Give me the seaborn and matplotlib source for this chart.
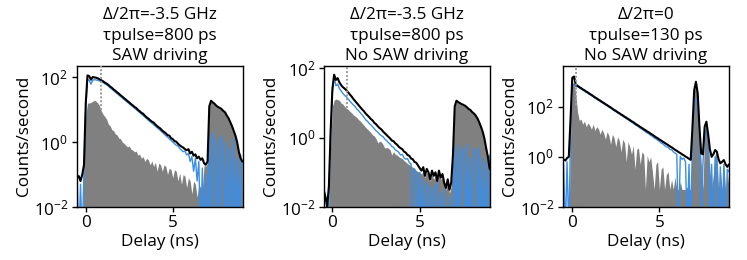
import numpy as np
import pandas as pd
import matplotlib
matplotlib.use("Agg")
import matplotlib.pyplot as plt
from matplotlib.ticker import NullLocator, FixedLocator
import seaborn as sns

# delay bins (ns), 0.1 ns wide, -0.5 ... 9.0  (96 bins)
delay_ns = np.round(np.arange(-0.5, 9.0001, 0.1), 1)

# ---------- values, stored as log10(counts/second) ----------
# Panel 1: Δ/2π=-3.5 GHz, τpulse=800 ps, SAW driving
p1_black_log10 = [
    -1.1, -1.05, -1.2, -1.0, -0.7, 1.2, 2.05, 2.03, 1.92, 2.0,
    1.99, 1.98, 1.96, 1.93, 1.9, 1.87, 1.83, 1.8, 1.76, 1.71,
    1.67, 1.62, 1.58, 1.53, 1.49, 1.44, 1.40, 1.35, 1.31, 1.26,
    1.22, 1.17, 1.13, 1.08, 1.05, 0.99, 0.95, 0.90, 0.87, 0.81,
    0.76, 0.72, 0.67, 0.63, 0.60, 0.54, 0.49, 0.45, 0.41, 0.35,
    0.31, 0.27, 0.21, 0.20, 0.12, 0.09, 0.03, 0.01, -0.05, -0.1,
    -0.14, -0.17, -0.22, -0.25, -0.22, -0.35, -0.3, -0.42, -0.38, -0.5,
    -0.45, -0.55, -0.5, -0.65, -0.7, -0.6, 1.1, 1.27, 1.22, 1.18,
    1.12, 1.08, 1.05, 1.02, 0.96, 0.92, 0.82, 0.74, 0.62, 0.5,
    0.35, 0.2, 0.0, -0.3, -0.5, -0.6]
p1_blue_log10 = [
    -1.1, -3, -1.3, -3, -0.8, 1.0, 1.93, 1.9, 1.78, 1.9,
    1.92, 1.91, 1.9, 1.88, 1.86, 1.83, 1.79, 1.76, 1.72, 1.67,
    1.63, 1.58, 1.54, 1.49, 1.45, 1.40, 1.36, 1.31, 1.27, 1.22,
    1.18, 1.13, 1.09, 1.04, 1.0, 0.95, 0.91, 0.86, 0.81, 0.77,
    0.72, 0.67, 0.63, 0.58, 0.54, 0.49, 0.44, 0.4, 0.35, 0.3,
    0.25, 0.2, 0.15, 0.1, 0.05, 0.0, -0.05, -0.1, -0.12, -0.2,
    -0.25, -0.3, -0.28, -0.4, -0.35, -0.6, -0.45, -0.9, -0.5, -1.2,
    -0.6, -3, -0.8, -3, -1.0, -3, 0.2, -3, 0.3, -0.2,
    -3, 0.1, -3, 0.2, -0.3, -3, 0.0, -3, -0.2, -3,
    0.1, -3, -0.5, -3, -0.4, -3]
p1_grey_log10 = [
    -3, -3, -3, -3, -0.3, 0.8, 1.2, 1.2, 1.22, 1.25,
    1.29, 1.25, 1.2, 1.1, 0.95, 0.85, 0.78, 0.7, 0.55, 0.5,
    0.38, 0.35, 0.25, 0.22, 0.12, 0.1, 0.0, -0.04, -0.1, -0.15,
    -0.12, -0.22, -0.25, -0.3, -0.28, -0.4, -0.38, -0.5, -0.45, -0.6,
    -0.5, -0.55, -0.7, -0.58, -0.75, -0.62, -0.9, -0.65, -0.7, -0.9,
    -0.7, -0.75, -1.0, -0.8, -0.85, -1.1, -0.85, -0.9, -1.2, -0.95,
    -1.3, -1.0, -1.05, -1.4, -1.1, -1.2, -1.6, -1.2, -1.3, -1.7,
    -1.3, -1.4, -1.5, -0.7, -0.75, -0.65, 1.08, 1.25, 1.2, 1.16,
    1.1, 1.06, 1.03, 1.0, 0.94, 0.9, 0.8, 0.72, 0.6, 0.48,
    0.33, 0.18, -0.02, -0.32, -0.52, -0.62]

# Panel 2: Δ/2π=-3.5 GHz, τpulse=800 ps, No SAW driving
p2_black_log10 = [
    -1.5, -1.7, -2.0, -1.4, 0.2, 1.4, 1.82, 1.67, 1.72, 1.6,
    1.52, 1.46, 1.42, 1.37, 1.31, 1.25, 1.19, 1.12, 1.06, 1.0,
    0.94, 0.88, 0.82, 0.77, 0.7, 0.65, 0.6, 0.54, 0.5, 0.43,
    0.39, 0.33, 0.28, 0.24, 0.18, 0.13, 0.08, 0.03, -0.02, -0.08,
    -0.1, -0.16, -0.2, -0.26, -0.3, -0.33, -0.4, -0.43, -0.5, -0.52,
    -0.6, -0.62, -0.7, -0.72, -0.8, -0.88, -0.95, -0.85, -1.1, -0.9,
    -1.0, -1.2, -0.95, -1.1, -1.0, -1.25, -0.95, -1.15, -1.05, -1.3,
    -1.45, -1.2, -1.5, -1.3, -0.5, 0.9, 1.07, 1.03, 1.0, 0.97,
    0.95, 0.92, 0.88, 0.83, 0.8, 0.74, 0.7, 0.64, 0.56, 0.45,
    0.32, 0.18, -0.02, -0.3, -0.55, -0.9]
p2_blue_log10 = [
    -1.6, -3, -3, -1.8, 0.1, 1.3, 1.77, 1.5, 1.55, 1.42,
    1.35, 1.28, 1.22, 1.18, 1.12, 1.06, 1.0, 0.95, 0.9, 0.83,
    0.78, 0.72, 0.66, 0.6, 0.52, 0.48, 0.42, 0.37, 0.32, 0.26,
    0.2, 0.16, 0.1, 0.06, 0.03, -0.04, -0.08, -0.14, -0.18, -0.25,
    -0.28, -0.35, -0.38, -0.42, -0.5, -0.48, -0.58, -0.62, -0.6, -0.72,
    -0.75, -3, -0.9, -1.0, -3, -1.0, -3, -1.2, -3, -1.3,
    -1.5, -3, -1.4, -3, -1.5, -1.3, -3, -1.6, -3, -1.5,
    -3, -3, -1.7, -3, -3, -0.3, -3, -0.2, -3, -0.5,
    -0.3, -3, -0.2, -3, -0.6, -3, -0.3, -0.4, -3, -0.3,
    -3, -0.6, -3, -0.7, -3, -0.5]
p2_grey_log10 = [
    -1.7, -3, -3, -1.8, -0.2, 0.9, 1.08, 1.12, 1.1, 1.08,
    1.0, 0.97, 0.9, 0.85, 0.82, 0.76, 0.72, 0.66, 0.62, 0.58,
    0.52, 0.48, 0.42, 0.36, 0.3, 0.25, 0.2, 0.15, 0.08, 0.05,
    -0.03, -0.15, -0.1, -0.12, -0.2, -0.3, -0.28, -0.3, -0.35, -0.5,
    -0.4, -0.48, -0.5, -0.55, -0.58, -0.6, -0.66, -0.7, -0.75, -0.78,
    -0.82, -0.85, -0.9, -0.95, -0.98, -1.0, -1.05, -0.95, -1.15, -1.0,
    -1.1, -1.25, -1.05, -1.2, -1.1, -1.3, -1.05, -1.2, -1.15, -1.35,
    -1.5, -1.3, -1.6, -1.4, -0.55, 0.88, 1.05, 1.01, 0.98, 0.95,
    0.93, 0.9, 0.86, 0.81, 0.78, 0.72, 0.68, 0.62, 0.54, 0.43,
    0.3, 0.16, -0.04, -0.32, -0.57, -0.92]

# Panel 3: Δ/2π=0, τpulse=130 ps, No SAW driving
p3_black_log10 = [
    -0.1, -0.15, -0.05, 0.0, 1.5, 3.15, 3.2, 2.88, 2.83, 2.78,
    2.74, 2.69, 2.65, 2.6, 2.56, 2.51, 2.47, 2.42, 2.37, 2.33,
    2.28, 2.24, 2.19, 2.15, 2.1, 2.06, 2.01, 1.97, 1.92, 1.87,
    1.83, 1.78, 1.74, 1.69, 1.65, 1.6, 1.56, 1.51, 1.47, 1.42,
    1.38, 1.33, 1.28, 1.24, 1.19, 1.15, 1.1, 1.06, 1.01, 0.97,
    0.92, 0.88, 0.83, 0.78, 0.74, 0.69, 0.65, 0.6, 0.56, 0.51,
    0.47, 0.42, 0.38, 0.33, 0.28, 0.24, 0.19, 0.15, 0.1, 0.06,
    0.01, -0.03, -0.08, -0.12, 1.2, 2.66, 2.99, 2.53, 1.2, 0.14,
    0.1, 1.2, 1.4, 0.9, 0.3, 0.0, 0.1, 0.27, 0.2, -0.1,
    -0.26, -0.2, -0.13, -0.3, -0.4, -0.3]
p3_blue_log10 = [
    -0.3, -3, -0.2, -3, 0.8, 2.85, 2.9, 2.8, 2.8, 2.75,
    2.71, 2.66, 2.62, 2.57, 2.53, 2.48, 2.44, 2.39, 2.34, 2.3,
    2.25, 2.21, 2.16, 2.12, 2.07, 2.03, 1.98, 1.94, 1.89, 1.84,
    1.8, 1.75, 1.71, 1.66, 1.62, 1.57, 1.52, 1.48, 1.43, 1.38,
    1.34, 1.28, 1.24, 1.2, 1.14, 1.1, 1.05, 1.0, 0.95, 0.92,
    0.85, 0.82, 0.75, 0.72, 0.66, 0.62, 0.55, 0.52, 0.45, 0.4,
    0.38, 0.3, 0.28, 0.2, 0.15, 0.1, -3, 0.02, -0.1, -0.05,
    -0.2, -3, -0.3, -3, 0.8, 2.2, 2.3, 2.0, 0.8, -3,
    -0.3, 0.9, 1.07, 0.6, -3, -0.3, -3, 0.0, -0.2, -3,
    -0.4, -3, -0.3, -3, -0.5, -0.6]
p3_grey_log10 = [
    -3, -3, -3, -3, 0.8, 2.9, 2.95, 2.5, 1.8, 1.45,
    1.5, 1.3, 1.42, 1.2, 1.35, 1.25, 1.1, 1.3, 1.05, 1.2,
    1.12, 0.9, 1.1, 0.95, 0.7, 1.0, 0.85, 0.5, 0.9, 0.75,
    0.4, 0.8, 0.65, 0.2, 0.7, 0.55, -0.2, 0.6, 0.4, 0.1,
    0.45, -0.5, 0.3, 0.35, -0.3, 0.2, 0.1, -1.3, 0.05, -0.2,
    0.0, -0.6, -1.3, -0.3, -0.2, -1.3, -0.5, -0.4, -1.3, -0.7,
    -0.6, -1.3, -0.9, -1.3, -0.8, -1.3, -1.3, -1.0, -1.3, -1.3,
    -1.3, -1.2, -1.3, -1.3, 1.1, 2.6, 2.95, 2.5, 1.1, -0.2,
    -1.3, 1.0, 1.35, 0.85, -0.5, -1.3, -0.7, 0.1, 0.2, -1.3,
    -0.5, -1.3, -0.3, -1.3, -0.6, -1.3]

titles = ["Δ/2π=-3.5 GHz\nτpulse=800 ps\nSAW driving",
          "Δ/2π=-3.5 GHz\nτpulse=800 ps\nNo SAW driving",
          "Δ/2π=0\nτpulse=130 ps\nNo SAW driving"]
marker_delay_ns = [0.85, 0.85, 0.23]       # dotted vertical markers
marker_floor_log10 = [1.0, 0.85, 2.05]
ylim_top_log10 = [2.35, 2.08, 3.63]
xlims = [(-0.52, 9.02), (-0.48, 9.02), (-0.55, 8.98)]

panels = [
    (p1_black_log10, p1_blue_log10, p1_grey_log10),
    (p2_black_log10, p2_blue_log10, p2_grey_log10),
    (p3_black_log10, p3_blue_log10, p3_grey_log10),
]

sns.set_theme(style="ticks")
plt.rcParams["font.family"] = ["Open Sans", "DejaVu Sans"]
plt.rcParams["text.color"] = "black"
plt.rcParams["axes.labelcolor"] = "black"
plt.rcParams["xtick.color"] = "black"
plt.rcParams["ytick.color"] = "black"
plt.rcParams["axes.edgecolor"] = "black"

W, H = 747, 260
fig = plt.figure(figsize=(W / 100, H / 100), dpi=100)
lefts_px = [76.7, 324.0, 562.7]
width_px = 166.0
top_px, bottom_px = 65.7, 207.0

BLUE = "#3a8ee8"
GREY = "#808080"
FS = 12.3

for i, (blk, blu, gry) in enumerate(panels):
    ax = fig.add_axes([lefts_px[i] / W, (H - bottom_px) / H,
                       width_px / W, (bottom_px - top_px) / H])
    df = pd.DataFrame({
        "delay": delay_ns,
        "black": 10.0 ** np.array(blk),
        "blue": 10.0 ** np.array(blu),
        "grey": 10.0 ** np.array(gry),
    })
    ax.fill_between(df["delay"], 1e-5, df["grey"], color=GREY, lw=0, zorder=1)
    sns.lineplot(data=df, x="delay", y="blue", ax=ax, color=BLUE, lw=1.0,
                 estimator=None, zorder=2)
    sns.lineplot(data=df, x="delay", y="black", ax=ax, color="black", lw=1.5,
                 estimator=None, zorder=3)
    ax.set_yscale("log")
    ax.set_ylim(1e-2, 10 ** ylim_top_log10[i])
    ax.set_xlim(*xlims[i])
    ax.vlines(marker_delay_ns[i], 10 ** marker_floor_log10[i], 10 ** ylim_top_log10[i],
              colors="#9a9a9a", linestyles=(0, (1, 1)), lw=1.4, zorder=4)
    ax.yaxis.set_major_locator(FixedLocator([1e-2, 1e0, 1e2]))
    ax.yaxis.set_minor_locator(NullLocator())
    ax.set_xticks([0, 5])
    ax.tick_params(labelsize=FS, length=3.5, width=1, pad=2.5)
    for s in ax.spines.values():
        s.set_linewidth(1.0)
    ax.set_xlabel("Delay (ns)", fontsize=FS, labelpad=2)
    ax.set_ylabel("Counts/second", fontsize=FS, labelpad=1)
    ax.set_title(titles[i], fontsize=FS, pad=4, linespacing=1.38)

fig.savefig("out.png", dpi=100)
